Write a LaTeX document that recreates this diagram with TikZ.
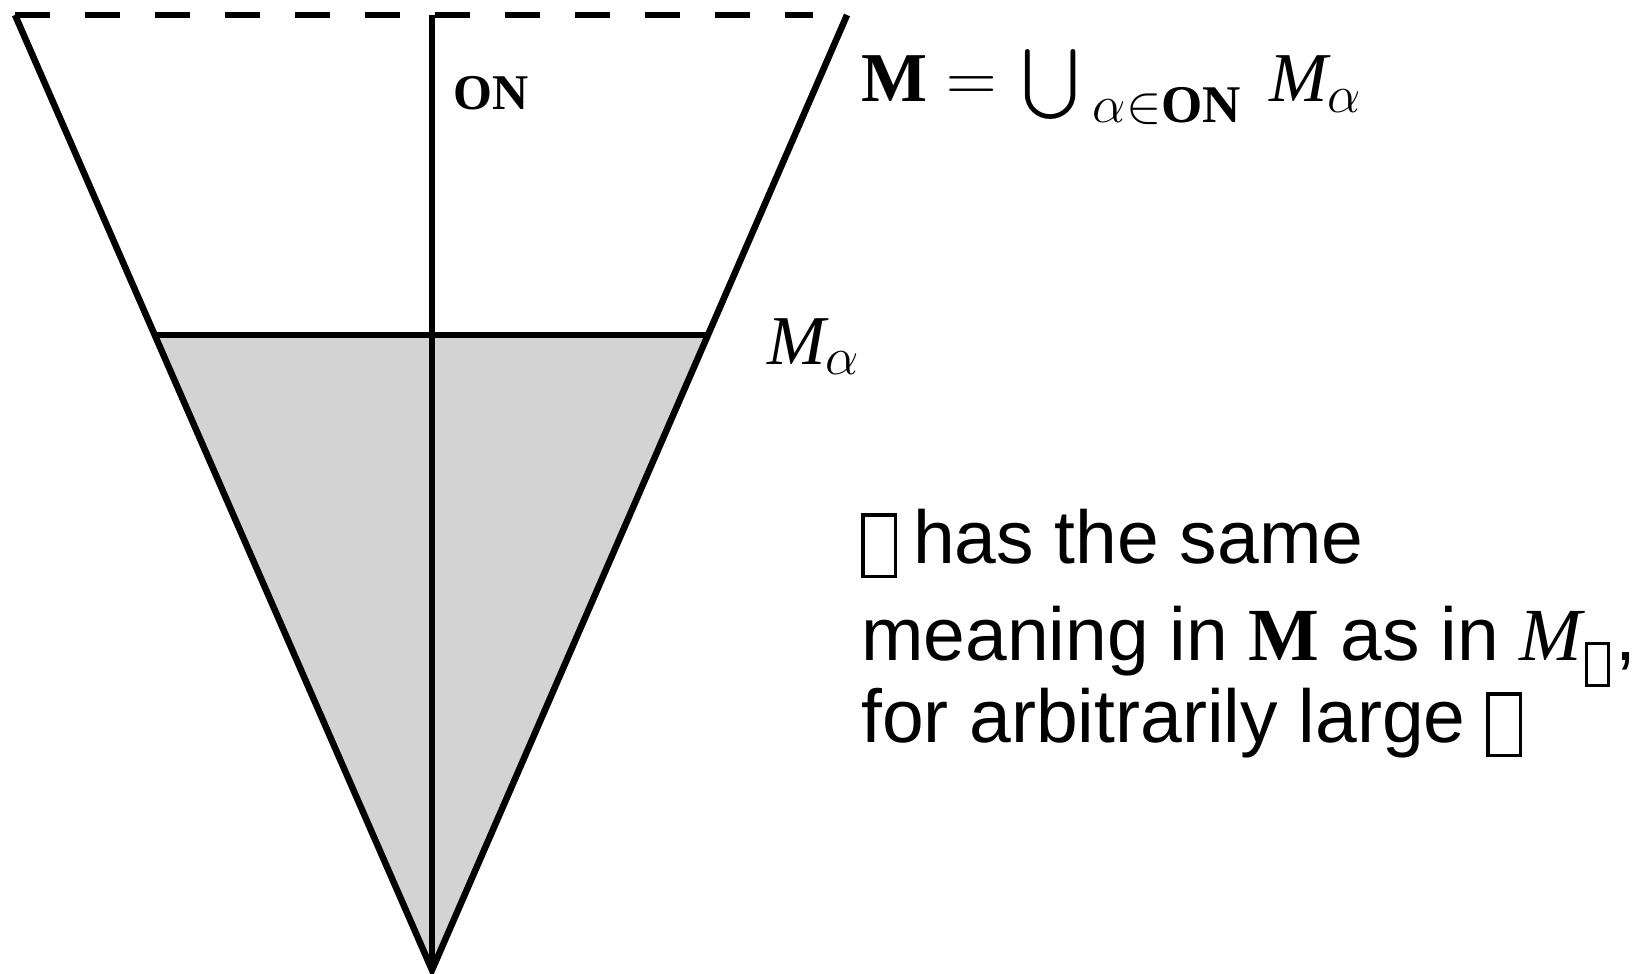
\RequirePackage{fix-cm}
\documentclass[tikz,border=0pt]{standalone}
\usepackage{amsmath}
\usepackage[no-math]{fontspec}
\DeclareFontShape{OMX}{cmex}{m}{n}{<-> cmex10}{}
\DeclareMathSizes{70}{70}{53}{40}
\newfontfamily\arialfont{Liberation Sans}
\newfontfamily\timesfont{Liberation Serif}
% tofu box: #1 inner width, #2 inner height, #3 lowering, #4 rule
\newcommand{\tofubox}[4]{\raisebox{-#3}{\setlength{\fboxsep}{0pt}\setlength{\fboxrule}{#4}\fbox{\rule{0pt}{#2}\rule{#1}{0pt}}}}
\newcommand{\boldM}{\text{\timesfont\bfseries M}}
\newcommand{\itM}{\text{\timesfont\itshape M}}
\newcommand{\boldON}{\text{\timesfont\bfseries ON}}
\definecolor{fillgray}{RGB}{211,211,211}
\begin{document}
\begin{tikzpicture}[x=1pt,y=-1pt,
  edge/.style={line width=6.5pt,line join=miter},
  dashedge/.style={line width=6.5pt,dash pattern=on 35pt off 35pt},
  lbl/.style={inner sep=0pt,anchor=base west},
  sanstext/.style={inner sep=0pt,anchor=base west,font=\arialfont\fontsize{75}{80}\selectfont}]
\useasboundingbox (0,0) rectangle (1636,974);
\coordinate (tl) at (15,15);
\coordinate (tr) at (847,15);
\coordinate (ap) at (432,970);
\coordinate (tc) at (432,15);
\coordinate (dend) at (813,15);
\coordinate (hl) at (157,335);
\coordinate (hr) at (707,335);
\fill[fillgray] (hl) -- (hr) -- (ap) -- cycle;
\draw[dashedge] (tl) -- (dend);
\draw[edge] (tl) -- (ap) -- (tr);
\draw[edge] (tc) -- (ap);
\draw[edge] (hl) -- (hr);
\node[lbl,font=\fontsize{50}{54}\selectfont] (on) at (453,109) {$\boldON$};
\node[lbl,font=\fontsize{70}{76}\selectfont] (union) at (861,102) {\raisebox{0pt}[60pt][22pt]{$\boldM=\kern5pt\bigcup_{\kern13pt\alpha\in\boldON}\hspace{16pt}\itM_\alpha$}};
\node[lbl,font=\fontsize{70}{76}\selectfont] (malpha) at (767,364) {$\itM_\alpha$};
\node[sanstext] (l1) at (861,563) {\tofubox{29pt}{58pt}{11.5pt}{3.5pt}\hspace{16pt}has the same};
\node[sanstext] (l2) at (861,660) {meaning in $\boldM$ as in $\itM$\kern3pt\tofubox{19pt}{39pt}{24pt}{3pt}\kern5pt,};
\node[sanstext] (l3) at (861,742) {for arbitrarily large \tofubox{29pt}{58pt}{11.5pt}{3.5pt}};
\end{tikzpicture}
\end{document}
